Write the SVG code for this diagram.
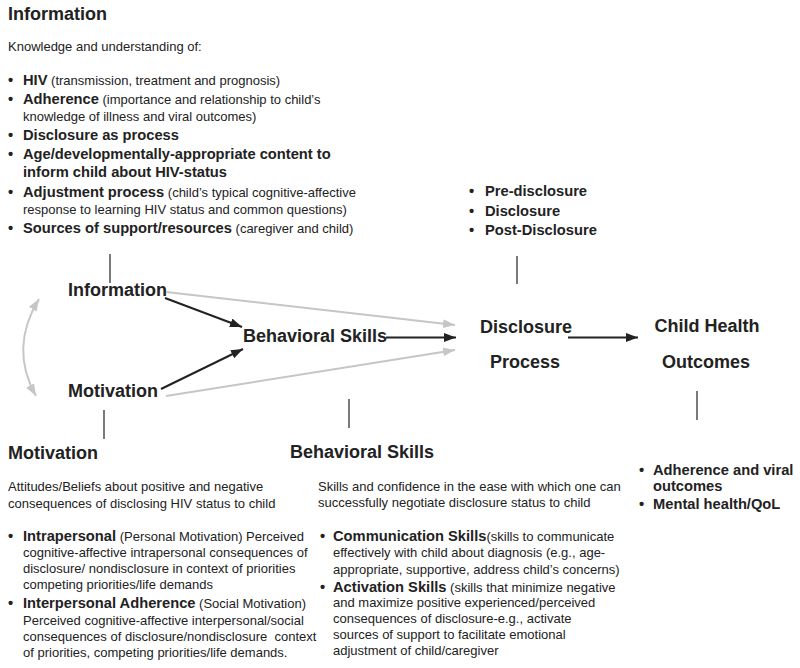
<svg xmlns="http://www.w3.org/2000/svg" width="800" height="668" viewBox="0 0 800 668">
<defs>
<style>
text{font-family:"Liberation Sans",Arial,sans-serif;fill:#222}
.t{font-size:18px;font-weight:bold}
.n{font-size:18px;font-weight:bold}
.r{font-size:13px}
.b{font-size:14.7px;font-weight:bold}
.bl{font-size:14.7px;font-weight:bold}
.k{stroke:#222;stroke-width:2;fill:none}
.g{stroke:#c6c6c6;stroke-width:2;fill:none}
.v{stroke:#333;stroke-width:1.3}
</style>
<marker id="ak" markerUnits="userSpaceOnUse" markerWidth="13" markerHeight="10" refX="12" refY="4.5" orient="auto-start-reverse"><path d="M0,0 L12,4.5 L0,9 z" fill="#222"/></marker>
<marker id="ag" markerUnits="userSpaceOnUse" markerWidth="13" markerHeight="10" refX="12" refY="4.5" orient="auto-start-reverse"><path d="M0,0 L12,4.5 L0,9 z" fill="#c6c6c6"/></marker>
</defs>
<rect width="800" height="668" fill="#fff"/>

<g id="info-block">
<text class="t" x="8" y="20">Information</text>
<text class="r" x="8" y="51">Knowledge and understanding of:</text>
<text class="bl" x="8" y="85">•</text>
<text x="23" y="85"><tspan class="b">HIV</tspan><tspan class="r"> (transmission, treatment and prognosis)</tspan></text>
<text class="bl" x="8" y="104">•</text>
<text x="23" y="104"><tspan class="b">Adherence</tspan><tspan class="r"> (importance and relationship to child’s</tspan></text>
<text class="r" x="23" y="120.5">knowledge of illness and viral outcomes)</text>
<text class="bl" x="8" y="139.5">•</text>
<text class="b" x="23" y="139.5">Disclosure as process</text>
<text class="bl" x="8" y="159">•</text>
<text class="b" x="23" y="159">Age/developmentally-appropriate content to</text>
<text class="b" x="23" y="176.5">inform child about HIV-status</text>
<text class="bl" x="8" y="197">•</text>
<text x="23" y="197"><tspan class="b">Adjustment process</tspan><tspan class="r"> (child’s typical cognitive-affective</tspan></text>
<text class="r" x="23" y="213.5">response to learning HIV status and common questions)</text>
<text class="bl" x="8" y="232.5">•</text>
<text x="23" y="232.5"><tspan class="b">Sources of support/resources</tspan><tspan class="r"> (caregiver and child)</tspan></text>
</g>

<g id="disclosure-stages">
<text class="bl" x="469" y="196">•</text><text class="b" x="485" y="196">Pre-disclosure</text>
<text class="bl" x="469" y="215.5">•</text><text class="b" x="485" y="215.5">Disclosure</text>
<text class="bl" x="469" y="235">•</text><text class="b" x="485" y="235">Post-Disclosure</text>
</g>

<g id="node-information"><text class="n" x="68" y="296">Information</text></g>
<g id="node-motivation"><text class="n" x="68" y="397">Motivation</text></g>
<g id="node-behavioral-skills"><text class="n" x="243" y="342">Behavioral Skills</text></g>
<g id="node-disclosure"><text class="n" x="526" y="333" text-anchor="middle">Disclosure</text><text class="n" x="525" y="368" text-anchor="middle">Process</text></g>
<g id="node-outcomes"><text class="n" x="707" y="332" text-anchor="middle">Child Health</text><text class="n" x="706" y="368" text-anchor="middle">Outcomes</text></g>

<g id="connectors">
<line class="v" x1="110" y1="254" x2="110" y2="283"/>
<line class="v" x1="517" y1="256" x2="517" y2="284"/>
<line class="v" x1="349" y1="399" x2="349" y2="428"/>
<line class="v" x1="104" y1="410" x2="104" y2="439"/>
<line class="v" x1="697" y1="391" x2="697" y2="420"/>
<line class="g" x1="166" y1="292" x2="455" y2="325" marker-end="url(#ag)"/>
<line class="g" x1="166" y1="396" x2="455" y2="350" marker-end="url(#ag)"/>
<line class="k" x1="165" y1="298" x2="242" y2="327" marker-end="url(#ak)"/>
<line class="k" x1="161" y1="389" x2="243" y2="349" marker-end="url(#ak)"/>
<line class="k" x1="386" y1="337.5" x2="456" y2="337.5" marker-end="url(#ak)"/>
<line class="k" x1="568" y1="337.5" x2="638" y2="337.5" marker-end="url(#ak)"/>
<path class="g" d="M39,299 Q9,348 36,396" marker-start="url(#ag)" marker-end="url(#ag)"/>
</g>

<g id="motivation-block">
<text class="t" x="8" y="459">Motivation</text>
<text class="r" x="8" y="491">Attitudes/Beliefs about positive and negative</text>
<text class="r" x="8" y="507.5">consequences of disclosing HIV status to child</text>
<text class="bl" x="8" y="541">•</text>
<text x="23" y="541"><tspan class="b">Intrapersonal</tspan><tspan class="r"> (Personal Motivation) Perceived</tspan></text>
<text class="r" x="23" y="557">cognitive-affective intrapersonal consequences of</text>
<text class="r" x="23" y="573">disclosure/ nondisclosure in context of priorities</text>
<text class="r" x="23" y="589">competing priorities/life demands</text>
<text class="bl" x="8" y="608">•</text>
<text x="23" y="608"><tspan class="b">Interpersonal Adherence</tspan><tspan class="r"> (Social Motivation)</tspan></text>
<text class="r" x="23" y="624.5">Perceived cognitive-affective interpersonal/social</text>
<text class="r" x="23" y="640.5" xml:space="preserve">consequences of disclosure/nondisclosure  context</text>
<text class="r" x="23" y="656.5">of priorities, competing priorities/life demands.</text>
</g>

<g id="behavioral-skills-block">
<text class="t" x="290" y="458">Behavioral Skills</text>
<text class="r" x="318" y="490.5">Skills and confidence in the ease with which one can</text>
<text class="r" x="318" y="507">successfully negotiate disclosure status to child</text>
<text class="bl" x="320" y="541">•</text>
<text x="333" y="541"><tspan class="b">Communication Skills</tspan><tspan class="r">(skills to communicate</tspan></text>
<text class="r" x="333" y="557">effectively with child about diagnosis (e.g., age-</text>
<text class="r" x="333" y="573.5">appropriate, supportive, address child’s concerns)</text>
<text class="bl" x="320" y="591.5">•</text>
<text x="333" y="591.5"><tspan class="b">Activation Skills</tspan><tspan class="r"> (skills that minimize negative</tspan></text>
<text class="r" x="333" y="607">and maximize positive experienced/perceived</text>
<text class="r" x="333" y="623">consequences of disclosure-e.g., activate</text>
<text class="r" x="333" y="639">sources of support to facilitate emotional</text>
<text class="r" x="333" y="655">adjustment of child/caregiver</text>
</g>

<g id="outcomes-block">
<text class="bl" x="639" y="475">•</text><text class="b" x="653" y="475">Adherence and viral</text>
<text class="b" x="653" y="491">outcomes</text>
<text class="bl" x="639" y="509">•</text><text class="b" x="653" y="509">Mental health/QoL</text>
</g>
</svg>
